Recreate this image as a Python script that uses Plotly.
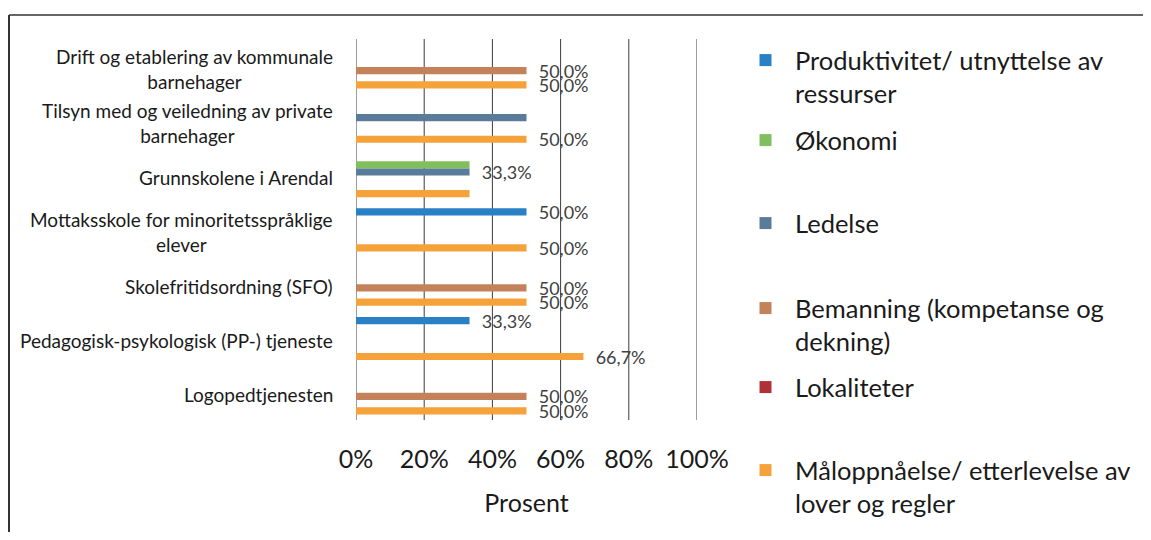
import plotly.graph_objects as go

categories = [
    "Drift og etablering av kommunale<br>barnehager",
    "Tilsyn med og veiledning av private<br>barnehager",
    "Grunnskolene i Arendal",
    "Mottaksskole for minoritetsspråklige<br>elever",
    "Skolefritidsordning (SFO)",
    "Pedagogisk-psykologisk (PP-) tjeneste",
    "Logopedtjenesten",
]
cat_ids = ["Drift", "Tilsyn", "Grunnskolene", "Mottaksskole", "SFO", "PP", "Logopedtjenesten"]

series_names = [
    "Produktivitet/ utnyttelse av<br>ressurser",
    "Økonomi",
    "Ledelse",
    "Bemanning (kompetanse og<br>dekning)",
    "Lokaliteter",
    "Måloppnåelse/ etterlevelse av<br>lover og regler",
]
produktivitet = [0, 0, 0, 0.5, 0, 0.333, 0]
okonomi = [0, 0, 0.333, 0, 0, 0, 0]
ledelse = [0, 0.5, 0.333, 0, 0, 0, 0]
bemanning = [0.5, 0, 0, 0, 0.5, 0, 0.5]
lokaliteter = [0, 0, 0, 0, 0, 0, 0]
maloppnaelse = [0.5, 0.5, 0.333, 0.5, 0.5, 0.667, 0.5]

# which data labels are shown in the original (1 = shown)
show_produktivitet = [0, 0, 0, 1, 0, 1, 0]
show_okonomi = [0, 0, 0, 0, 0, 0, 0]
show_ledelse = [0, 0, 1, 0, 0, 0, 0]
show_bemanning = [1, 0, 0, 0, 1, 0, 1]
show_lokaliteter = [0, 0, 0, 0, 0, 0, 0]
show_maloppnaelse = [1, 1, 0, 1, 1, 1, 1]

tick_vals = [0, 0.2, 0.4, 0.6, 0.8, 1.0]
tick_text = ["0%", "20%", "40%", "60%", "80%", "100%"]

colors = ["#2a80c4", "#80bf5e", "#5b7b9b", "#c4825a", "#b03038", "#f6a23a"]
values = [produktivitet, okonomi, ledelse, bemanning, lokaliteter, maloppnaelse]
shows = [show_produktivitet, show_okonomi, show_ledelse, show_bemanning,
         show_lokaliteter, show_maloppnaelse]

FONT = "Lato"
O = 8  # page body margin
SW, SH = 1151, 540  # screen size
W, H = SW - 2 * O, SH - 2 * O
# plot area in screen pixels
PL, PR, PT, PB = 356, 697, 39, 420
L, R, T, B = PL - O, W - (PR - O), PT - O, H - (PB - O)
pw, ph = PR - PL, PB - PT


def px_x(p):
    return (p - PL) / pw


def px_y(p):
    return (PB - p) / ph


NB = "\u00a0\u00a0"
fig = go.Figure()
legend_ids = ["legend", "legend2", "legend3", "legend4", "legend5", "legend6"]
for name, vals, show, col, lid in zip(series_names, values, shows, colors, legend_ids):
    texts = [(NB + f"{v*100:.1f}%".replace(".", ",")) if s else "" for v, s in zip(vals, show)]
    fig.add_trace(go.Bar(
        y=cat_ids, x=vals, orientation="h", name=name,
        marker=dict(color=col, line=dict(width=0)),
        text=texts, textposition="outside", constraintext="none", cliponaxis=False,
        textfont=dict(family=FONT, size=18, color="#404040"),
        legend=lid,
    ))

# legend placement (screen pixel positions of the first text line top)
legend_tops = [37, 117, 200, 285, 364, 447]
legend_x = 736
layout_legends = {}
for lid, top in zip(legend_ids, legend_tops):
    layout_legends[lid] = dict(
        x=px_x(legend_x), xanchor="left",
        y=px_y(top), yanchor="top",
        font=dict(family=FONT, size=25.5, color="#1a1a1a"),
        bgcolor="rgba(0,0,0,0)", borderwidth=0, valign="top",
        itemwidth=49, itemclick=False,
    )

annotations = []
for cid, lab in zip(cat_ids, categories):
    annotations.append(dict(
        x=0, xref="paper", y=cid, yref="y", text=lab, showarrow=False,
        xanchor="right", yanchor="middle", align="center", xshift=-21, yshift=-2,
        font=dict(family=FONT, size=19, color="#1a1a1a"),
    ))

shapes = [
    dict(type="line", xref="paper", yref="paper", x0=px_x(9), x1=px_x(SW), y0=px_y(15), y1=px_y(15),
         line=dict(color="#333333", width=1.5)),
    dict(type="line", xref="paper", yref="paper", x0=px_x(9), x1=px_x(9), y0=px_y(15), y1=px_y(SH),
         line=dict(color="#333333", width=2)),
]
# vertical gridlines at every tick value (drawn below the bars)
for tv in tick_vals:
    shapes.append(dict(type="line", xref="x", yref="paper", x0=tv, x1=tv, y0=0, y1=1,
                       layer="below", line=dict(color="#3c3c3c", width=1)))

fig.update_layout(
    width=W, height=H,
    margin=dict(l=L, r=R, t=T, b=B, autoexpand=False),
    paper_bgcolor="white", plot_bgcolor="white",
    barmode="group", bargap=0.206, bargroupgap=0,
    showlegend=True,
    annotations=annotations, shapes=shapes,
    font=dict(family=FONT, color="#1a1a1a"),
    xaxis=dict(
        range=[0, 1], tickvals=tick_vals, ticktext=tick_text,
        showgrid=False, zeroline=False,
        showline=False, ticks="", ticklabelstandoff=22,
        tickfont=dict(family=FONT, size=25, color="#1a1a1a"),
        title=dict(text="Prosent", font=dict(family=FONT, size=25, color="#1a1a1a"), standoff=22),
    ),
    yaxis=dict(
        autorange="reversed", showticklabels=False, showgrid=False, zeroline=False,
        showline=False,
    ),
    **layout_legends,
)

fig.write_html("out.html")
